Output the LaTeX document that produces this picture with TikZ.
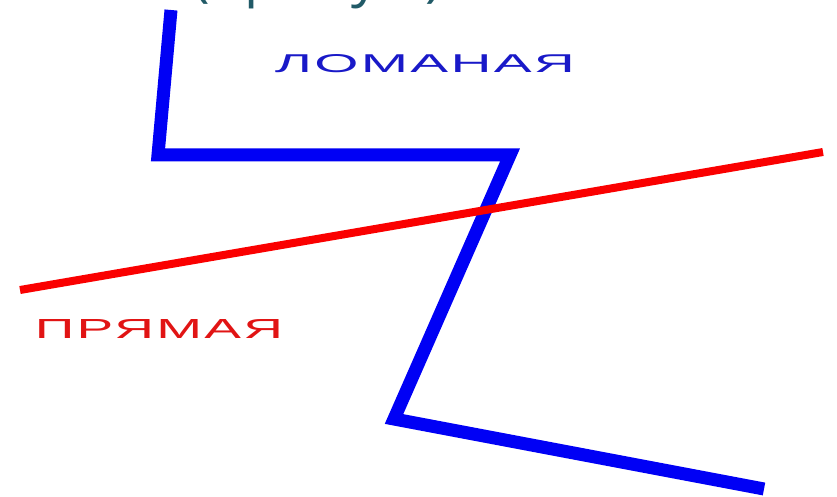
\documentclass[tikz,border=0pt]{standalone}
\usepackage{fontspec}
\usepackage{graphicx}
\setmainfont{Liberation Sans}
\newfontfamily\titlefont{Open Sans}
\newfontfamily\labelfont[LetterSpace=4]{Liberation Sans}
\usetikzlibrary{positioning}
\definecolor{lineblue}{RGB}{0,0,245}
\definecolor{textblue}{RGB}{25,25,200}
\definecolor{linered}{RGB}{250,0,0}
\definecolor{textred}{RGB}{225,20,20}
\definecolor{titleteal}{RGB}{33,90,103}

\begin{document}
\begin{tikzpicture}[
  x=1pt, y=-1pt,
  broken/.style={draw=lineblue, line width=13pt},
  straight/.style={draw=linered, line width=8pt},
  caption/.style={inner sep=0pt, font=\labelfont}
]
\useasboundingbox (0,0) rectangle (837,497);
% title, cut off at the top edge
\begin{scope}
\clip (0,0) rectangle (837,497);
\node[anchor=base west, inner sep=0pt, text=titleteal,
      font=\titlefont\fontsize{56}{60}\selectfont] (title) at (193,-4) {(прямую)};
\end{scope}

% broken line
\coordinate (b1) at (171,10);
\coordinate (b2) at (158,155);
\coordinate (b3) at (510,155);
\coordinate (b4) at (394,419);
\coordinate (b5) at (764,489);
\draw[broken] (b1)--(b2)--(b3)--(b4)--(b5);

% straight line
\coordinate (s1) at (20,290);
\coordinate (s2) at (823,152);
\draw[straight] (s1)--(s2);

\node[caption, text=textblue] (lomanaya) at (425,64) {\resizebox{300pt}{18pt}{ЛОМАНАЯ}};
\node[caption, text=textred] (pryamaya) at (159,329) {\resizebox{248pt}{19pt}{ПРЯМАЯ}};
\end{tikzpicture}
\end{document}
